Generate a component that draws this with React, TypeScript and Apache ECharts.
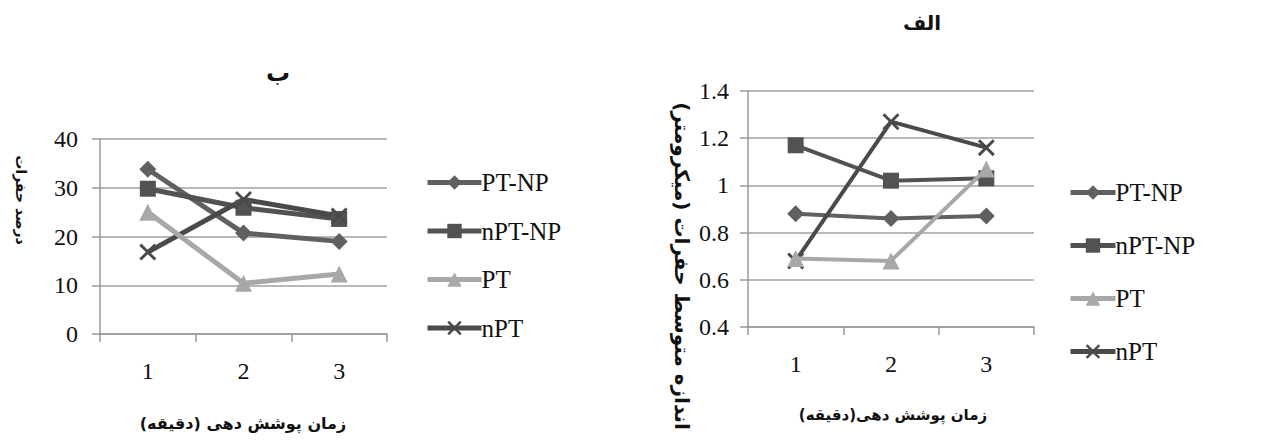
import React, { useEffect, useRef } from "react";
import * as echarts from "echarts";

const categories = ["1", "2", "3"];
const seriesNames = ["PT-NP", "nPT-NP", "PT", "nPT"];

// Chart ب (left): percentage of pores
const leftPTNP = [33.8, 20.7, 19.0];
const leftNPTNP = [29.8, 25.9, 23.6];
const leftPT = [25.0, 10.4, 12.3];
const leftNPT = [16.8, 27.6, 24.2];

// Chart الف (right): mean pore size (µm)
const rightPTNP = [0.88, 0.86, 0.87];
const rightNPTNP = [1.17, 1.02, 1.03];
const rightPT = [0.69, 0.68, 1.07];
const rightNPT = [0.68, 1.27, 1.16];

const leftYTicks = { min: 0, max: 40, interval: 10 };
const rightYTicks = { min: 0.4, max: 1.4, interval: 0.2 };

const colors = ["#606060", "#525252", "#a8a8a8", "#4a4a4a"];
const crossPath =
  "path://M0,1.2 L1.2,0 L5,3.8 L8.8,0 L10,1.2 L6.2,5 L10,8.8 L8.8,10 L5,6.2 L1.2,10 L0,8.8 L3.8,5 Z";
const symbols = ["diamond", "rect", "triangle", crossPath];
const symbolSizes = [17, 16, 17, 17];

const FONT_SERIF = "Liberation Serif";
const FONT_FA = "DejaVu Sans";

export default function App() {
  const ref = useRef<HTMLDivElement>(null);
  useEffect(() => {
    if (!ref.current) return;
    const chart = echarts.init(ref.current, null, { renderer: "svg" });
    const leftData = [leftPTNP, leftNPTNP, leftPT, leftNPT];
    const rightData = [rightPTNP, rightNPTNP, rightPT, rightNPT];

    const mkX = (gi: number) => ({
      type: "category",
      gridIndex: gi,
      data: categories,
      boundaryGap: true,
      axisLine: { lineStyle: { color: "#999", width: 1.5 } },
      axisTick: { show: true, length: 8, lineStyle: { color: "#999", width: 1.5 } },
      axisLabel: { color: "#111", fontFamily: FONT_SERIF, fontSize: 24, margin: 25 },
    });
    const mkY = (gi: number, t: any, margin: number) => ({
      type: "value",
      gridIndex: gi,
      min: t.min,
      max: t.max,
      interval: t.interval,
      axisLine: { show: true, lineStyle: { color: "#999", width: 1.5 } },
      axisTick: { show: true, length: 8, lineStyle: { color: "#999", width: 1.5 } },
      splitLine: { lineStyle: { color: "#a0a0a0", width: 1.5 } },
      axisLabel: {
        color: "#111",
        fontFamily: FONT_SERIF,
        fontSize: 24,
        margin,
        formatter: (v: number) => String(+v.toFixed(1)),
      },
    });

    const series: any[] = [];
    [leftData, rightData].forEach((data, gi) => {
      data.forEach((vals, i) => {
        series.push({
          type: "line",
          name: seriesNames[i],
          xAxisIndex: gi,
          yAxisIndex: gi,
          data: vals,
          symbol: symbols[i],
          symbolSize: symbolSizes[i],
          showAllSymbol: true,
          lineStyle: { color: colors[i], width: gi === 0 ? 5 : 4 },
          itemStyle: { color: colors[i] },
          z: i === 2 ? 3 : 2,
        });
      });
    });

    const legendCommon = {
      orient: "vertical",
      data: seriesNames,
      itemHeight: 18,
      lineStyle: { width: 5 },
      textStyle: { fontFamily: FONT_SERIF, fontSize: 25, color: "#111", padding: [0, 0, 0, -5] },
      selectedMode: false,
    };

    const faText = (x: number, y: number, text: string, rot = 0, size = 16) => ({
      type: "text",
      x,
      y,
      rotation: rot,
      style: {
        text,
        fontFamily: FONT_FA,
        fontWeight: "bold",
        fontSize: size,
        fill: "#111",
        align: "center",
        verticalAlign: "middle",
      },
    });

    chart.setOption({
      animation: false,
      backgroundColor: "#fff",
      textStyle: { fontFamily: FONT_SERIF },
      grid: [
        { left: 100, top: 139, width: 287, height: 195 },
        { left: 748, top: 91, width: 286, height: 236 },
      ],
      xAxis: [mkX(0), mkX(1)],
      yAxis: [mkY(0, leftYTicks, 22), mkY(1, rightYTicks, 19)],
      legend: [
        { ...legendCommon, left: 420, top: 165, itemWidth: 54, itemGap: 23.5 },
        { ...legendCommon, left: 1063, top: 175, itemWidth: 45, itemGap: 28 },
      ],
      series,
      graphic: [
        faText(278, 73, "ب", 0, 24),
        faText(922, 23, "الف", 0, 20),
        faText(243, 423, "زمان پوشش دهی (دقیقه)", 0, 16),
        faText(893, 415, "زمان پوشش دهی(دقیقه)", 0, 15),
        faText(21, 200, "درصد حفرات", -Math.PI / 2, 14),
        faText(682, 266, "اندازه متوسط حفرات (میکرومتر)", -Math.PI / 2, 20),
      ],
    });
    return () => chart.dispose();
  }, []);
  return (
    <div style={{ position: "absolute", left: 0, top: 0 }}>
      <div ref={ref} style={{ width: 1277, height: 441 }} />
    </div>
  );
}
